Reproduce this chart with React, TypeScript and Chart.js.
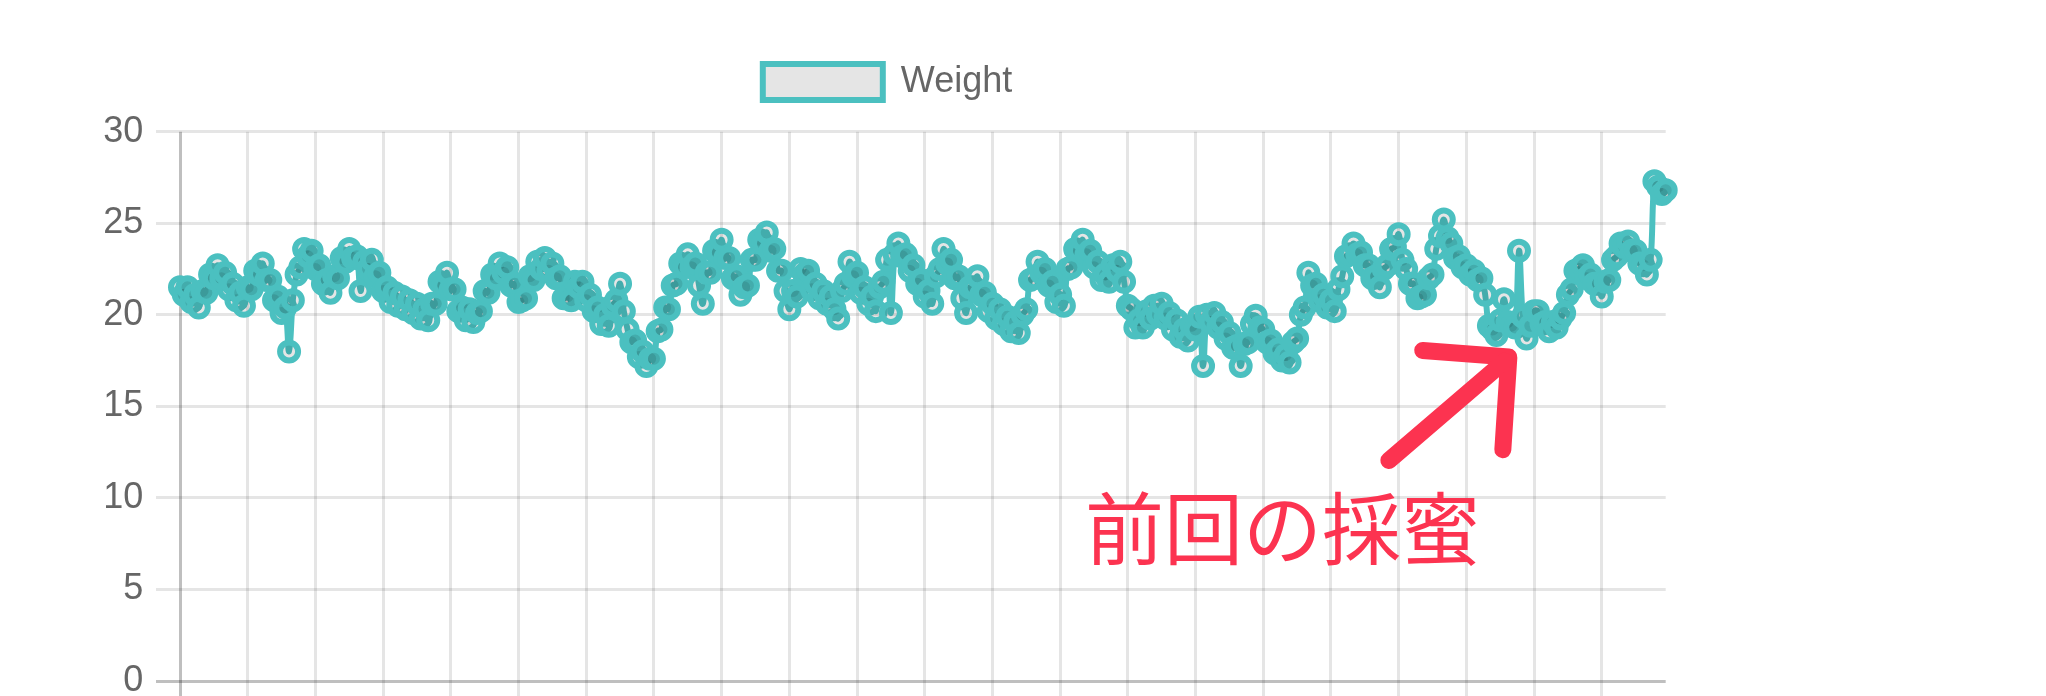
import React, { useEffect, useRef } from 'react';
import { Chart, registerables } from 'chart.js';

Chart.register(...registerables);

// ---- data ----
const SERIES_LABEL = 'Weight';

const WEIGHT: number[] = [
  21.5, 21.1, 21.5, 20.7, 21.1, 20.4, 21.3, 21.2, 22.2, 22.0,
  22.7, 22.0, 22.3, 21.4, 21.7, 20.8, 21.2, 20.5, 21.5, 21.4,
  22.4, 22.2, 22.8, 21.9, 21.9, 20.8, 21.0, 20.1, 20.4, 18.0,
  20.8, 22.2, 22.6, 23.6, 23.2, 23.5, 22.5, 22.7, 21.7, 21.9,
  21.2, 22.1, 22.0, 23.1, 22.9, 23.6, 23.1, 23.2, 21.3, 22.9,
  22.5, 23.0, 22.1, 22.3, 21.3, 21.5, 20.7, 21.2, 20.5, 21.0,
  20.3, 20.8, 20.1, 20.6, 19.8, 20.3, 19.7, 20.6, 20.6, 21.8,
  21.6, 22.3, 21.4, 21.4, 20.2, 20.4, 19.7, 20.3, 19.6, 20.1,
  20.2, 21.3, 21.2, 22.2, 22.0, 22.8, 22.3, 22.6, 21.6, 21.7,
  20.7, 20.8, 20.9, 22.1, 21.9, 22.9, 22.5, 23.1, 22.4, 22.8,
  22.0, 22.1, 20.9, 21.0, 20.8, 21.8, 21.5, 21.8, 20.8, 21.1,
  20.2, 20.4, 19.5, 20.0, 19.4, 20.5, 20.8, 21.7, 20.2, 19.2,
  18.5, 18.6, 17.7, 18.0, 17.2, 17.6, 17.6, 19.1, 19.2, 20.4,
  20.3, 21.6, 21.7, 22.8, 22.6, 23.3, 22.6, 22.8, 21.6, 20.6,
  22.3, 22.3, 23.5, 23.4, 24.1, 23.1, 23.1, 22.0, 22.1, 21.1,
  21.5, 21.6, 23.0, 23.0, 24.1, 23.9, 24.5, 23.5, 23.6, 22.4,
  22.4, 21.3, 20.3, 21.3, 21.0, 22.5, 22.2, 22.4, 21.4, 21.7,
  20.9, 21.3, 20.6, 21.0, 20.3, 19.8, 21.3, 21.7, 22.9, 22.1,
  22.3, 21.2, 21.5, 20.6, 21.0, 20.2, 21.5, 21.8, 23.0, 20.1,
  23.3, 23.9, 23.2, 23.3, 22.4, 22.7, 21.7, 21.9, 21.0, 21.3,
  20.6, 22.1, 22.5, 23.6, 22.8, 23.0, 22.0, 22.1, 20.9, 20.1,
  21.5, 21.5, 22.1, 21.1, 21.2, 20.2, 20.6, 19.8, 20.3, 19.5,
  19.9, 19.1, 19.6, 19.0, 20.0, 20.3, 21.9, 22.0, 22.9, 22.3,
  22.5, 21.6, 21.8, 20.7, 21.1, 20.5, 22.5, 22.6, 23.6, 23.5,
  24.1, 23.3, 23.5, 22.6, 22.9, 21.9, 22.2, 21.8, 22.7, 22.4,
  22.9, 21.8, 20.5, 20.3, 19.3, 19.7, 19.3, 20.2, 19.8, 20.5,
  20.0, 20.6, 19.8, 20.1, 19.2, 19.7, 18.8, 19.2, 18.6, 19.4,
  19.2, 19.9, 17.2, 20.0, 19.6, 20.1, 19.3, 19.6, 18.7, 19.0,
  18.2, 18.3, 17.2, 18.4, 18.5, 19.5, 19.95, 19.3, 19.2, 18.5,
  18.6, 17.9, 18.1, 17.5, 17.8, 17.4, 18.5, 18.7, 20.0, 20.4,
  22.3, 21.6, 21.7, 20.8, 21.1, 20.4, 20.8, 20.2, 21.4, 22.1,
  23.2, 23.3, 23.9, 23.3, 23.4, 22.7, 22.7, 22.0, 22.1, 21.5,
  22.5, 22.7, 23.6, 23.7, 24.4, 23.0, 22.5, 21.7, 21.7, 20.9,
  21.0, 21.1, 22.0, 22.2, 23.6, 24.3, 25.2, 24.2, 23.9, 23.1,
  23.2, 22.6, 22.7, 22.2, 22.4, 21.9, 22.0, 21.1, 19.4, 19.2,
  18.9, 19.7, 20.85, 19.6, 19.4, 19.3, 23.5, 19.9, 18.7, 19.4,
  20.2, 20.2, 19.5, 19.6, 19.1, 19.6, 19.3, 19.8, 20.1, 21.1,
  21.4, 22.4, 22.5, 22.7, 22.0, 22.2, 21.7, 21.7, 21.0, 21.8,
  21.9, 23.0, 23.2, 23.9, 23.7, 24.0, 23.5, 23.5, 22.8, 22.7,
  22.2, 23.0, 27.3, 27.0, 26.6, 26.8,
];

// category labels are cropped out of the reference; one per reading
const LABELS: string[] = WEIGHT.map((_, i) => String(i + 1));

// indices at which vertical grid lines are drawn (every 18th reading)
const GRID_TICKS: number[] = [0, 18, 36, 54, 72, 90, 108, 126, 144, 162, 180, 198, 216, 234, 252, 270, 288, 306, 324, 342, 360, 378];

const Y_MIN = 0;
const Y_MAX = 30;
const Y_STEP = 5;

// annotation (data units: x = reading index, y = weight)
const NOTE_TEXT = '前回の採蜜';
const NOTE_POS: [number, number] = [240.6, 8.28];
const ARROW_HEAD: [number, number][] = [[330.4, 18.05], [353.3, 17.69], [351.7, 12.63]];
const ARROW_SHAFT: [number, number][] = [[321.4, 12.04], [352.2, 17.47]];

// ---- styles ----
const TEAL = 'rgb(75, 192, 192)';
const FILL = 'rgba(0, 0, 0, 0.1)';
const GRID = 'rgba(0, 0, 0, 0.1)';
const ZERO = 'rgba(0, 0, 0, 0.25)';
const RED = '#fc3350';
const FONT = "'Liberation Sans', 'Helvetica Neue', Helvetica, Arial, sans-serif";

const notePlugin = {
  id: 'harvestNote',
  afterDraw(chart: any) {
    const { ctx, scales } = chart;
    const xs = scales.x;
    const ys = scales.y;
    const px = (p: [number, number]) => [xs.getPixelForValue(p[0]), ys.getPixelForValue(p[1])];
    ctx.save();
    ctx.strokeStyle = RED;
    ctx.lineWidth = 17;
    ctx.lineCap = 'round';
    ctx.lineJoin = 'round';
    [ARROW_HEAD, ARROW_SHAFT].forEach((path) => {
      ctx.beginPath();
      path.forEach((p, i) => {
        const [a, b] = px(p);
        if (i === 0) ctx.moveTo(a, b);
        else ctx.lineTo(a, b);
      });
      ctx.stroke();
    });
    const [tx, ty] = px(NOTE_POS);
    ctx.fillStyle = RED;
    ctx.font = "400 79px 'Noto Sans CJK JP', sans-serif";
    ctx.textAlign = 'left';
    ctx.textBaseline = 'middle';
    ctx.fillText(NOTE_TEXT, tx, ty);
    ctx.restore();
  },
};

export default function App() {
  const ref = useRef<HTMLCanvasElement | null>(null);

  useEffect(() => {
    if (!ref.current) return;
    Chart.defaults.font.family = FONT;
    const chart = new Chart(ref.current, {
      type: 'line',
      data: {
        labels: LABELS,
        datasets: [
          {
            label: SERIES_LABEL,
            data: WEIGHT,
            borderColor: TEAL,
            backgroundColor: FILL,
            borderWidth: 6,
            pointRadius: 9,
            pointBorderWidth: 6,
            pointBorderColor: TEAL,
            pointBackgroundColor: FILL,
            tension: 0.4,
            fill: false,
          },
        ],
      },
      options: {
        responsive: false,
        animation: false,
        devicePixelRatio: 1,
        events: [],
        layout: { padding: { top: 34, left: 0, right: 0, bottom: 0 } },
        plugins: {
          legend: {
            display: true,
            position: 'top',
            labels: {
              boxWidth: 120,
              boxHeight: 36,
              padding: 30,
              color: '#666',
              font: { size: 36, family: FONT },
            },
          },
          title: {
            display: true,
            text: '',
            weight: 500,
            padding: 0,
            font: { size: 18.08 },
          } as any,
          tooltip: { enabled: false },
        },
        scales: {
          x: {
            type: 'category',
            ticks: { display: false, autoSkip: false },
            grid: {
              color: (c: any) => (c.index === 0 ? ZERO : GRID),
              lineWidth: 3,
              tickLength: 24,
              drawTicks: true,
            },
            border: { display: false },
            afterBuildTicks: (s: any) => {
              s.ticks = GRID_TICKS.map((v) => ({ value: v }));
            },
            afterFit: (s: any) => {
              s.height = 12.7;
              s.paddingLeft = 0;
              s.paddingRight = 109.3;
              s.paddingTop = 0;
              s.paddingBottom = 0;
            },
          },
          y: {
            min: Y_MIN,
            max: Y_MAX,
            ticks: {
              stepSize: Y_STEP,
              color: '#666',
              padding: 12.7,
              font: { size: 36, family: FONT },
            },
            grid: {
              color: (c: any) => (c.tick && c.tick.value === 0 ? ZERO : GRID),
              lineWidth: 3,
              tickLength: 24,
            },
            border: { display: false },
            afterFit: (s: any) => {
              s.width = 180;
              s.paddingTop = 0;
              s.paddingBottom = 0;
              s.paddingLeft = 0;
              s.paddingRight = 0;
            },
          },
        },
      } as any,
      plugins: [notePlugin],
    });
    return () => chart.destroy();
  }, []);

  return (
    <div
      style={{
        position: 'absolute',
        left: 0,
        top: 0,
        width: 2046,
        height: 696,
        overflow: 'hidden',
        background: '#fff',
      }}
    >
      <canvas ref={ref} width={1775} height={696} style={{ display: 'block', width: 1775, height: 696 }} />
    </div>
  );
}
